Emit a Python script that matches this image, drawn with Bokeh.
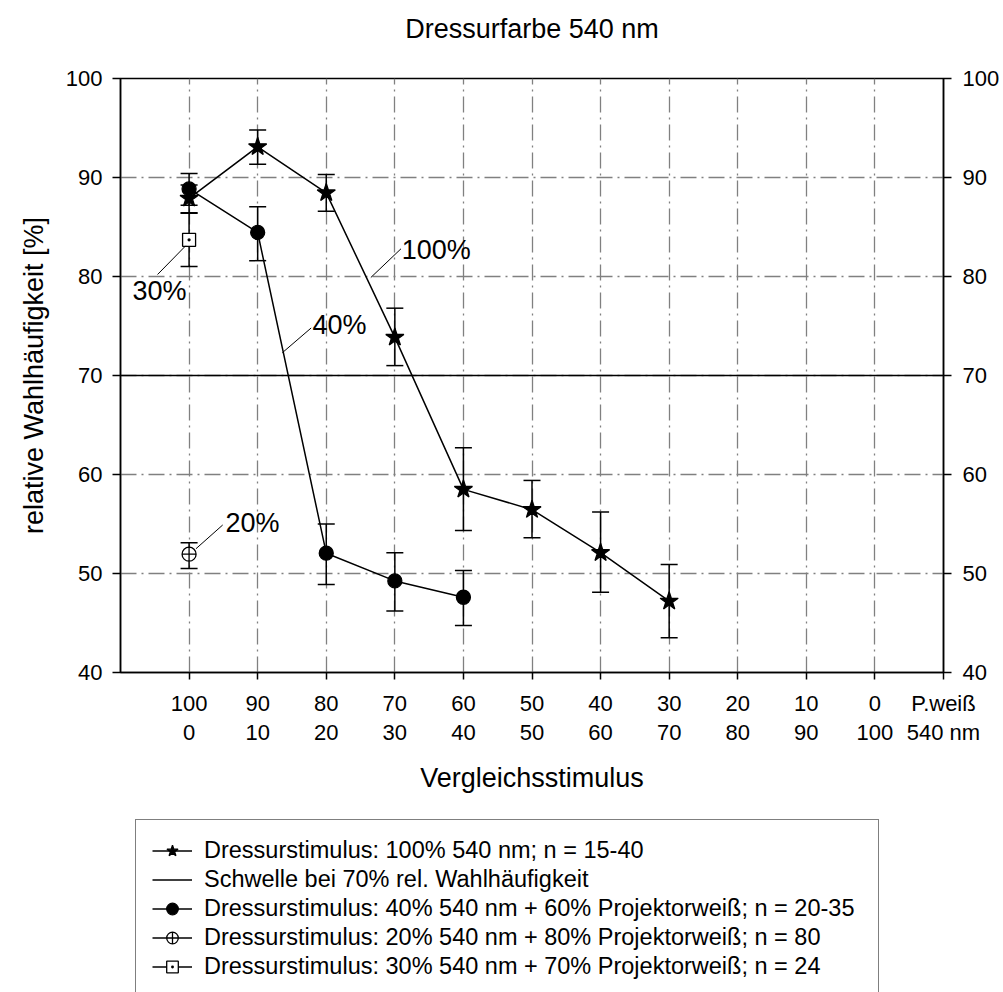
from bokeh.plotting import figure
from bokeh.layouts import column
from bokeh.models import (Range1d, FixedTicker, LinearAxis, ColumnDataSource, Whisker,
                          TeeHead, Legend, LegendItem)
from bokeh.core.properties import value
from bokeh.embed import file_html
from bokeh.resources import INLINE

FONT = "Liberation Sans"

# Comparison stimulus: % projector white (upper row) and % 540 nm (lower row)
white_pct = ["100", "90", "80", "70", "60", "50", "40", "30", "20", "10", "0"]
green_pct = ["0", "10", "20", "30", "40", "50", "60", "70", "80", "90", "100"]
row_names = ["P.weiß", "540 nm"]
y_ticks = [40, 50, 60, 70, 80, 90, 100]

# Training stimulus 100% 540 nm (n = 15-40)
full_x = [0, 1, 2, 3, 4, 5, 6, 7]
full_y = [87.9, 93.1, 88.45, 73.85, 58.5, 56.45, 52.1, 47.2]
full_lo = [86.45, 91.35, 86.6, 71.0, 54.35, 53.6, 48.1, 43.5]
full_hi = [89.25, 94.8, 90.3, 76.8, 62.7, 59.4, 56.2, 50.9]

# Training stimulus 40% 540 nm + 60% projector white (n = 20-35)
mix40_x = [0, 1, 2, 3, 4]
mix40_y = [88.85, 84.45, 52.05, 49.25, 47.6]
mix40_lo = [87.2, 81.6, 48.9, 46.2, 44.75]
mix40_hi = [90.4, 87.05, 55.0, 52.1, 50.3]

# Training stimulus 20% 540 nm + 80% projector white (n = 80)
mix20_x = [0]
mix20_y = [51.95]
mix20_lo = [50.5]
mix20_hi = [53.1]

# Training stimulus 30% 540 nm + 70% projector white (n = 24)
mix30_x = [0]
mix30_y = [83.7]
mix30_lo = [81.0]
mix30_hi = [86.4]

threshold = 70

legend_labels = [
    "Dressurstimulus: 100% 540 nm; n = 15-40",
    "Schwelle bei 70% rel. Wahlhäufigkeit",
    "Dressurstimulus: 40% 540 nm + 60% Projektorweiß; n = 20-35",
    "Dressurstimulus: 20% 540 nm + 80% Projektorweiß; n = 80",
    "Dressurstimulus: 30% 540 nm + 70% Projektorweiß; n = 24",
]

p = figure(frame_width=823, frame_height=594,
           min_border_left=120, min_border_right=60,
           min_border_top=78, min_border_bottom=140,
           x_range=Range1d(-1, 11), y_range=Range1d(40, 100),
           output_backend="svg", toolbar_location=None,
           background_fill_color="white", border_fill_color="white",
           outline_line_color="black", outline_line_width=1.5)
p.title = None

ticks = list(range(len(white_pct)))
label_ticks = ticks + [len(white_pct)]

def style_x_axis(ax, labels):
    ax.ticker = FixedTicker(ticks=label_ticks)
    ax.major_label_overrides = {i: t for i, t in enumerate(labels)}
    ax.minor_tick_line_color = None
    ax.major_label_text_font = FONT
    ax.major_label_text_font_size = "22px"
    ax.major_label_text_color = "black"
    ax.axis_label_text_font = FONT
    ax.axis_label_text_font_size = "27px"
    ax.axis_label_text_font_style = "normal"
    ax.axis_label_text_color = "black"

# Upper row of category labels, with the axis line and tick marks
xa = p.below[0]
style_x_axis(xa, white_pct + [row_names[0]])
xa.axis_line_width = 1.5
xa.axis_line_color = "black"
xa.major_tick_line_width = 1.5
xa.major_tick_line_color = "black"
xa.major_tick_out = 7
xa.major_tick_in = 0
xa.major_label_standoff = 11

# Lower row of category labels and the axis title
xb = LinearAxis(axis_line_color=None, major_tick_line_color=None,
                major_label_standoff=-5,
                axis_label="Vergleichsstimulus", axis_label_standoff=15)
style_x_axis(xb, green_pct + [row_names[1]])
p.add_layout(xb, "below")

# Chart heading, carried by a bare axis along the top edge
top_axis = LinearAxis(ticker=FixedTicker(ticks=[]), axis_line_color=None,
                      major_tick_line_color=None, minor_tick_line_color=None,
                      major_tick_out=0, major_tick_in=0, major_label_standoff=0,
                      axis_label="Dressurfarbe 540 nm", axis_label_standoff=35,
                      axis_label_text_font=FONT, axis_label_text_font_size="27px",
                      axis_label_text_font_style="normal", axis_label_text_color="black")
p.add_layout(top_axis, "above")

def style_y_axis(ax):
    ax.ticker = FixedTicker(ticks=y_ticks)
    ax.major_label_text_font = FONT
    ax.major_label_text_font_size = "22px"
    ax.major_label_text_color = "black"
    ax.major_tick_out = 8
    ax.major_tick_in = 0
    ax.minor_tick_line_color = None
    ax.axis_line_width = 1.5
    ax.axis_line_color = "black"
    ax.major_tick_line_width = 1.5
    ax.major_tick_line_color = "black"

ya = p.left[0]
style_y_axis(ya)
ya.axis_label = "relative Wahlhäufigkeit [%]"
ya.axis_label_text_font = FONT
ya.axis_label_text_font_size = "27px"
ya.axis_label_text_font_style = "normal"
ya.axis_label_text_color = "black"
ya.axis_label_standoff = 14
ya.major_label_standoff = 10

yr = LinearAxis(major_label_standoff=11)
style_y_axis(yr)
p.add_layout(yr, "right")

# Dash-dot grid
p.xgrid[0].ticker = FixedTicker(ticks=ticks)
p.ygrid[0].ticker = FixedTicker(ticks=y_ticks)
for g in (p.xgrid[0], p.ygrid[0]):
    g.grid_line_color = "#808080"
    g.grid_line_width = 1.3
    g.grid_line_dash = "16 5 2 5"

# Error bars
def error_bars(xs, lo, hi):
    src = ColumnDataSource(dict(x=xs, lo=lo, hi=hi))
    w = Whisker(source=src, base="x", lower="lo", upper="hi",
                line_color="black", line_width=1.5, level="underlay",
                upper_head=TeeHead(size=17, line_width=1.5, line_color="black"),
                lower_head=TeeHead(size=17, line_width=1.5, line_color="black"))
    p.add_layout(w)

error_bars(full_x, full_lo, full_hi)
error_bars(mix40_x, mix40_lo, mix40_hi)
error_bars(mix20_x, mix20_lo, mix20_hi)
error_bars(mix30_x, mix30_lo, mix30_hi)

LINE = dict(line_color="black", line_width=1.5)
STYLES = [
    dict(marker="star", size=19, fill_color="black"),
    dict(marker="circle", size=14, fill_color="black"),
    dict(marker="circle_cross", size=14, fill_color="white"),
    dict(marker="square_dot", size=13, fill_color="white"),
]

def series(fig, xs, ys, style, visible=True):
    src = ColumnDataSource(dict(x=xs, y=ys))
    ln = fig.line("x", "y", source=src, visible=visible, **LINE)
    mk = fig.scatter("x", "y", source=src, line_color="black", line_width=1.3,
                     visible=visible, **style)
    return [ln, mk]

def threshold_line(fig, visible=True):
    return [fig.line([p.x_range.start, p.x_range.end], [threshold, threshold],
                     visible=visible, **LINE)]

# Threshold across the full x range, then the four series
threshold_line(p)
series(p, full_x, full_y, STYLES[0])
series(p, mix40_x, mix40_y, STYLES[1])
series(p, mix20_x, mix20_y, STYLES[2])
series(p, mix30_x, mix30_y, STYLES[3])

# Curve labels with leader lines
tags = ["100%", "40%", "30%", "20%"]
lead_x0 = [2.65, 1.36, -0.05, 0.10]
lead_y0 = [79.9, 72.3, 83.1, 52.5]
lead_x1 = [3.09, 1.78, -0.46, 0.49]
lead_y1 = [82.8, 74.8, 80.2, 54.9]
p.segment(lead_x0, lead_y0, lead_x1, lead_y1, line_color="black", line_width=1)
tag_x = [3.1, 1.8, -0.43, 0.53]
tag_y = [82.7, 75.1, 78.5, 55.1]
tag_align = ["left", "left", "center", "left"]
p.text(x=tag_x, y=tag_y, text=tags, text_align=tag_align, text_baseline="middle",
       text_font=value(FONT), text_font_size="27px", text_color="black")

# Legend panel underneath the chart; its key renderers carry the same series
# but stay hidden, so only their legend glyphs are drawn
lf = figure(width=1003, height=180, x_axis_type=None, y_axis_type=None,
            x_range=Range1d(-1, 11), y_range=Range1d(40, 100), min_border=0,
            outline_line_color=None, output_backend="svg", toolbar_location=None,
            background_fill_color="white", border_fill_color="white")
lf.grid.visible = False

k_full = series(lf, full_x, full_y, STYLES[0], visible=False)
k_thr = threshold_line(lf, visible=False)
k_40 = series(lf, mix40_x, mix40_y, STYLES[1], visible=False)
k_20 = series(lf, mix20_x, mix20_y, STYLES[2], visible=False)
k_30 = series(lf, mix30_x, mix30_y, STYLES[3], visible=False)

legend = Legend(items=[
    LegendItem(label=legend_labels[0], renderers=k_full),
    LegendItem(label=legend_labels[1], renderers=k_thr),
    LegendItem(label=legend_labels[2], renderers=k_40),
    LegendItem(label=legend_labels[3], renderers=k_20),
    LegendItem(label=legend_labels[4], renderers=k_30),
], location=(15, -6), margin=0, padding=16, spacing=0,
    glyph_width=40, glyph_height=29, label_height=29, label_width=658,
    label_standoff=12, click_policy="none",
    inactive_fill_alpha=0.0,
    label_text_font=FONT, label_text_font_size="23.5px", label_text_color="black",
    border_line_color="black", border_line_width=1.5,
    background_fill_color="white", background_fill_alpha=1)
lf.add_layout(legend)

open("out.html", "w").write(file_html(column(p, lf), INLINE))
